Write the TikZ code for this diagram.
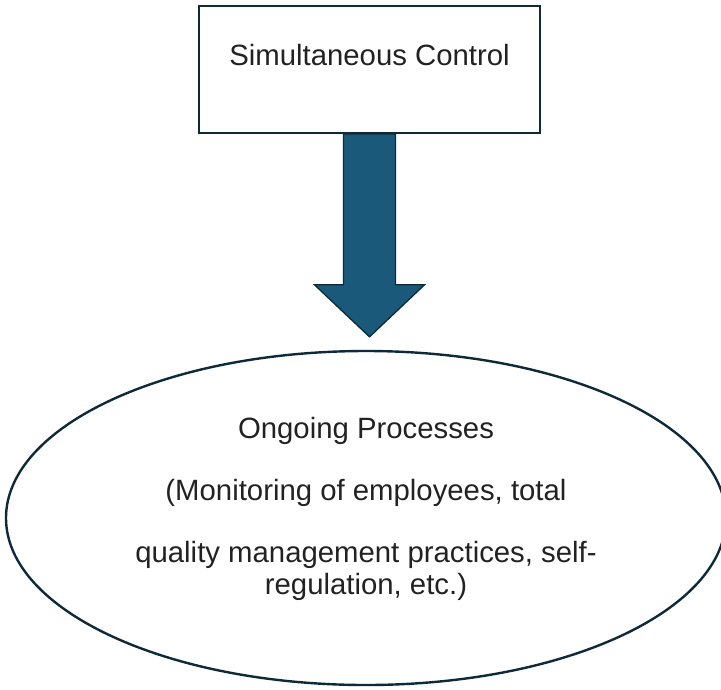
\documentclass[tikz,border=0pt]{standalone}
\usepackage{fontspec}
\setmainfont{Liberation Sans}
\usetikzlibrary{shapes.geometric,calc}

\definecolor{edgenavy}{RGB}{14,42,58}
\definecolor{arrowteal}{RGB}{26,89,122}
\definecolor{labelgray}{RGB}{34,34,34}

\tikzset{
  ctrlbox/.style={draw=edgenavy,line width=1.5pt,fill=white,minimum width=255.75pt,minimum height=95.25pt,inner sep=0pt},
  procshape/.style={ellipse,draw=edgenavy,line width=1.8pt,minimum width=540pt,minimum height=250.5pt,inner sep=0pt},
  bodytext/.style={text=labelgray,font=\fontsize{22}{24.5}\selectfont,align=center,inner sep=0.75pt},
  bigarrow/.style={fill=arrowteal,draw=edgenavy,line width=1pt,line join=miter}
}

\begin{document}
\begin{tikzpicture}[x=0.75pt,y=0.75pt,yscale=-1,xscale=1]
\useasboundingbox (0,0) rectangle (721,689);

% Box
\node [ctrlbox] (ctrl) at (369.5,69.5) {};
% Text Node
\node [bodytext] (ctrltext) at (369.5,55) {Simultaneous Control};
% Ellipse
\node [procshape] (proc) at (366,518) {};
% Text Node
\node [bodytext] (proctext) at (366,509) {Ongoing Processes\\[22pt]
  (Monitoring of employees, total\\[22pt]
  quality management practices, self-\\
  regulation, etc.)};
% Block arrow
\coordinate (tip) at ($(ctrl.south |- proc.north)+(0,-13)$);
\filldraw [bigarrow] ($(ctrl.south)+(-26,0)$) -- ($(tip)+(-26,-52)$) -- ($(tip)+(-55,-52)$)
  -- (tip) -- ($(tip)+(55,-52)$) -- ($(tip)+(26,-52)$) -- ($(ctrl.south)+(26,0)$) -- cycle;

\end{tikzpicture}
\end{document}
